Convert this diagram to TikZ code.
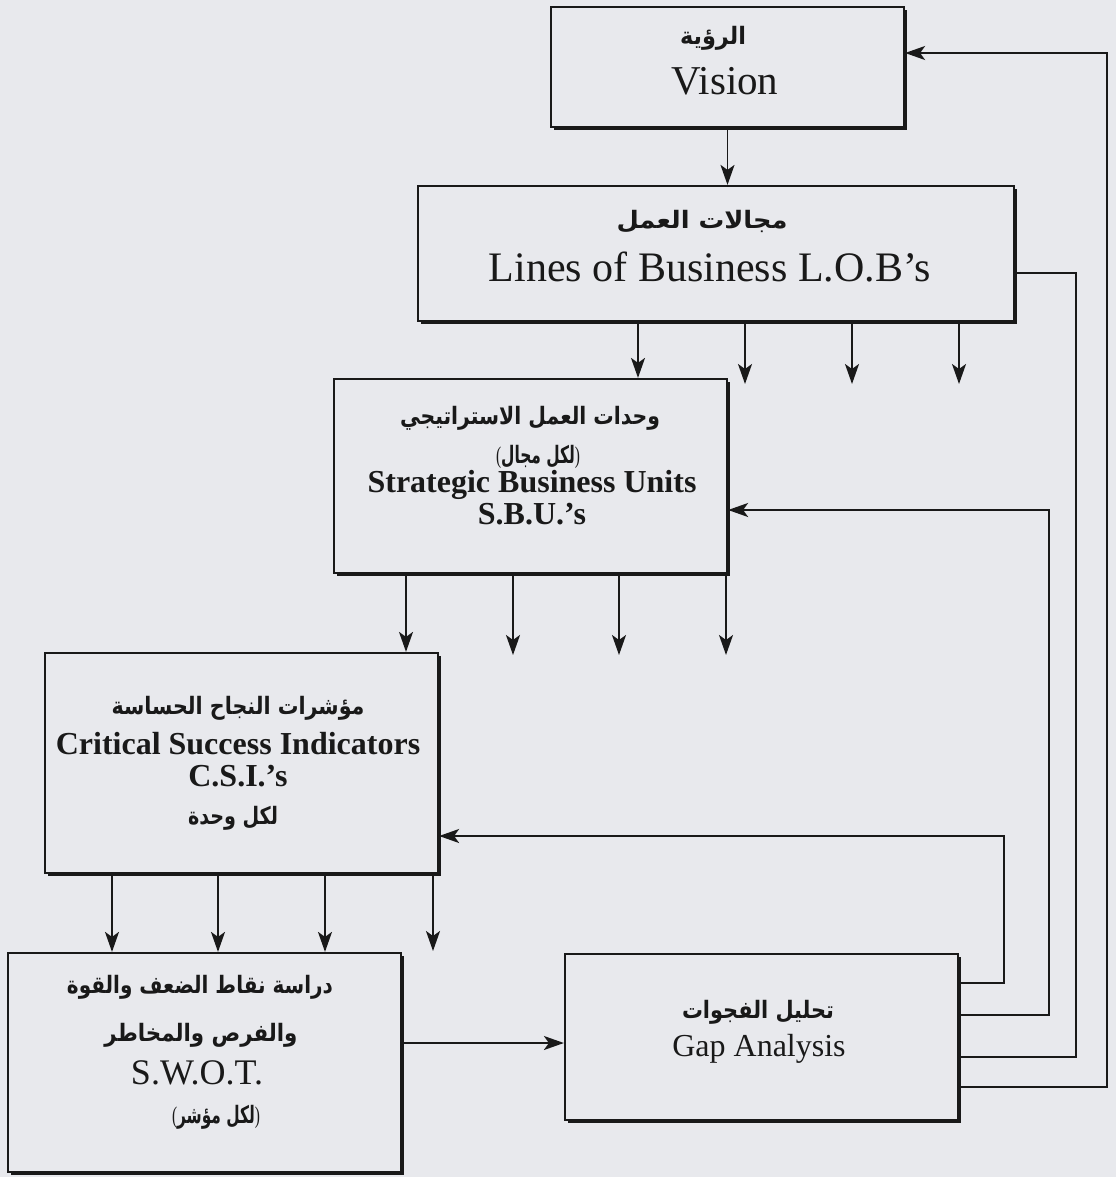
\documentclass[tikz,border=0pt]{standalone}
\usepackage{fontspec}
\usepackage{graphicx}
\setmainfont{Liberation Serif}
\newfontfamily\arabicfont[Script=Arabic]{DejaVu Sans}
\TeXXeTstate=1
\usetikzlibrary{arrows.meta,shadows}
\definecolor{bg}{RGB}{232,233,237}
\definecolor{ink}{RGB}{25,25,25}
\newcommand{\AR}[2]{\resizebox{#1pt}{\height}{\fontsize{24}{24}\arabicfont\bfseries #2}}
\newcommand{\ARp}[2]{\resizebox{#1pt}{\height}{\fontsize{24}{24}\selectfont(\arabicfont\bfseries #2\normalfont)}}
\begin{document}
\begin{tikzpicture}[x=1pt,y=-1pt,
  box/.style={draw=ink, line width=2.2pt, fill=bg, inner sep=0pt,
    drop shadow={shadow xshift=3pt, shadow yshift=-3pt, opacity=1, fill=ink}},
  en/.style={anchor=base, text=ink, inner sep=0pt},
  ar/.style={anchor=center, text=ink, inner sep=0pt},
  conn/.style={draw=ink, line width=1.8pt},
  arr/.style={conn, -{Stealth[length=20pt,width=14pt,inset=5pt]}},
]
\fill[bg] (0,0) rectangle (1116,1177);
\useasboundingbox (0,0) rectangle (1116,1177);

% boxes
\node[box, minimum width=353pt, minimum height=120pt] (vision) at (727.5,67) {};
\node[box, minimum width=596pt, minimum height=135pt] (lob) at (716,253.5) {};
\node[box, minimum width=393pt, minimum height=194pt] (sbu) at (530.5,476) {};
\node[box, minimum width=393pt, minimum height=220pt] (csi) at (241.5,763) {};
\node[box, minimum width=393pt, minimum height=219pt] (swot) at (204.5,1062.5) {};
\node[box, minimum width=393pt, minimum height=166pt] (gap) at (761.5,1037) {};

% texts
\node[ar] (a1) at (713,38) {\AR{66}{\beginR الرؤية\endR}};
\node[en, font=\fontsize{41}{41}\selectfont] (e1) at (725,95) {Vision};

\node[ar] (a2) at (702,222) {\AR{171}{\beginR مجالات العمل\endR}};
\node[en, font=\fontsize{42}{42}\selectfont] (e2) at (710,281) {Lines of Business L.O.B’s};

\node[ar] (a3) at (530,418) {\AR{260}{\beginR وحدات العمل الاستراتيجي\endR}};
\node[ar] (a4) at (538,457) {\ARp{84}{\beginR لكل مجال\endR}};
\node[en, font=\fontsize{32}{32}\selectfont\bfseries] (e3) at (532,492) {Strategic Business Units};
\node[en, font=\fontsize{32}{32}\selectfont\bfseries] (e4) at (532,524) {S.B.U.’s};

\node[ar] (a5) at (238,708) {\AR{253}{\beginR مؤشرات النجاح الحساسة\endR}};
\node[en, font=\fontsize{32}{32}\selectfont\bfseries] (e5) at (238,754) {Critical Success Indicators};
\node[en, font=\fontsize{32}{32}\selectfont\bfseries] (e6) at (238,786) {C.S.I.’s};
\node[ar] (a6) at (233,818) {\AR{90}{\beginR لكل وحدة\endR}};

\node[ar] (a7) at (200,987) {\AR{266}{\beginR دراسة نقاط الضعف والقوة\endR}};
\node[ar] (a8) at (201,1035) {\AR{193}{\beginR والفرص والمخاطر\endR}};
\node[en, font=\fontsize{36}{36}\selectfont] (e7) at (197,1084) {S.W.O.T.};
\node[ar] (a9) at (216,1117) {\ARp{88}{\beginR لكل مؤشر\endR}};

\node[ar] (a10) at (758,1012) {\AR{152}{\beginR تحليل الفجوات\endR}};
\node[en, font=\fontsize{32}{32}\selectfont] (e8) at (759,1056) {Gap Analysis};

% coordinates
\coordinate (l1) at (638,384);
\coordinate (l2) at (745,384);
\coordinate (l3) at (852,384);
\coordinate (l4) at (959,384);
\coordinate (s1) at (406,655);
\coordinate (s2) at (513,655);
\coordinate (s3) at (619,655);
\coordinate (s4) at (726,655);
\coordinate (c1) at (112,951);
\coordinate (c2) at (218,951);
\coordinate (c3) at (325,951);
\coordinate (c4) at (433,951);
\coordinate (sg) at (480,1043);
\coordinate (f1) at (1004,983);
\coordinate (f1t) at (1004,836);
\coordinate (f2) at (1049,1015);
\coordinate (f2t) at (1049,510);
\coordinate (f3) at (1076,1057);
\coordinate (f3t) at (1076,273);
\coordinate (f4) at (1107,1087);
\coordinate (f4t) at (1107,53);

% connectors
\draw[arr] (vision.south) -- (vision.south |- lob.north);

\draw[arr] (l1 |- lob.south) -- (l1 |- sbu.north);
\draw[arr] (l2 |- lob.south) -- (l2);
\draw[arr] (l3 |- lob.south) -- (l3);
\draw[arr] (l4 |- lob.south) -- (l4);

\draw[arr] (s1 |- sbu.south) -- (s1 |- csi.north);
\draw[arr] (s2 |- sbu.south) -- (s2);
\draw[arr] (s3 |- sbu.south) -- (s3);
\draw[arr] (s4 |- sbu.south) -- (s4);

\draw[arr] (c1 |- csi.south) -- (c1 |- swot.north);
\draw[arr] (c2 |- csi.south) -- (c2 |- swot.north);
\draw[arr] (c3 |- csi.south) -- (c3 |- swot.north);
\draw[arr] (c4 |- csi.south) -- (c4);

\draw[arr] (swot.east |- sg) -- (gap.west |- sg);

\draw[arr] (gap.east |- f1) -- (f1) -- (f1t) -- (csi.east |- f1t);
\draw[arr] (gap.east |- f2) -- (f2) -- (f2t) -- (sbu.east |- f2t);
\draw[conn] (gap.east |- f3) -- (f3) -- (f3t) -- (lob.east |- f3t);
\draw[arr] (gap.east |- f4) -- (f4) -- (f4t) -- (vision.east |- f4t);
\end{tikzpicture}
\end{document}
